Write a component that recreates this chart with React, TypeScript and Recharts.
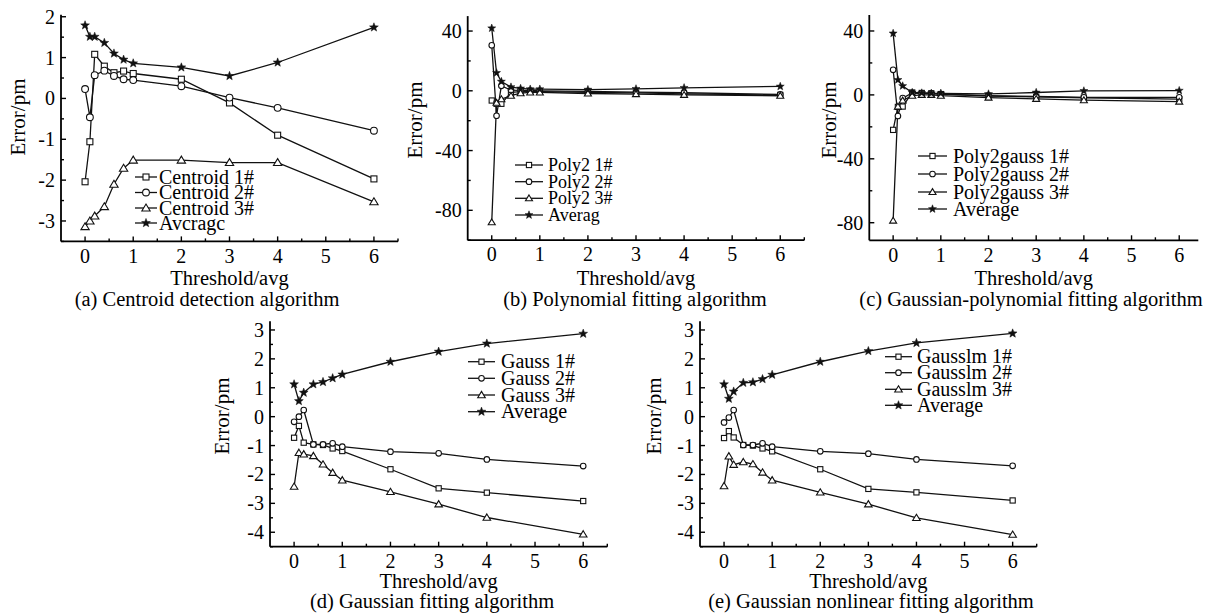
import React from 'react';
import { LineChart, Line, XAxis, YAxis } from 'recharts';

const FONT = '"Liberation Serif", "Times New Roman", Times, serif';

// Threshold / avg values (x axis)
const thresholds = [0, 0.1, 0.2, 0.4, 0.6, 0.8, 1, 2, 3, 4, 6];

// (a) Centroid detection algorithm
const centroid1 = [-2.04, -1.06, 1.08, 0.79, 0.63, 0.67, 0.61, 0.47, -0.11, -0.9, -1.97];
const centroid2 = [0.23, -0.46, 0.57, 0.68, 0.55, 0.47, 0.45, 0.3, 0.02, -0.23, -0.79];
const centroid3 = [-3.14, -3.0, -2.88, -2.65, -2.1, -1.71, -1.51, -1.51, -1.57, -1.57, -2.53];
const centroidAvg = [1.79, 1.51, 1.51, 1.36, 1.1, 0.95, 0.86, 0.76, 0.55, 0.88, 1.74];

// (b) Polynomial fitting algorithm
const poly1 = [-6.5, -8.7, -8.7, -1.0, -0.5, -0.3, -0.5, -1.0, -1.4, -2.0, -2.8];
const poly2 = [30.5, -16.7, 3.3, 0.5, 0.3, 0.2, 0.0, -0.4, -0.9, -1.3, -2.4];
const poly3 = [-88, -8.0, -5.6, -3.3, -1.6, -1.1, -1.1, -1.8, -2.2, -2.7, -3.3];
const polyAvg = [41.9, 12.0, 6.2, 2.5, 1.6, 1.1, 1.1, 0.8, 1.3, 2.0, 2.9];

// (c) Gaussian-polynomial fitting algorithm
const pgauss1 = [-21.9, -7.5, -7.3, 1.5, 1.2, 1.0, 0.5, -0.8, -1.2, -1.8, -2.7];
const pgauss2 = [15.7, -13.2, -2.0, 1.2, 1.0, 0.8, 0.5, -0.5, -1.0, -1.5, -1.5];
const pgauss3 = [-78.7, -7.3, -3.5, -0.5, 0.0, 0.0, -0.5, -1.7, -2.5, -3.3, -4.2];
const pgaussAvg = [38.5, 9.4, 5.6, 1.5, 1.2, 1.0, 1.0, 0.6, 1.5, 2.5, 2.7];

// (d) Gaussian fitting algorithm
const gauss1 = [-0.73, -0.32, -0.9, -0.96, -0.98, -1.1, -1.19, -1.82, -2.48, -2.63, -2.92];
const gauss2 = [-0.18, 0.0, 0.23, -0.96, -0.96, -0.92, -1.04, -1.21, -1.27, -1.48, -1.71];
const gauss3 = [-2.42, -1.25, -1.3, -1.36, -1.65, -1.94, -2.2, -2.6, -3.03, -3.49, -4.07];
const gaussAvg = [1.12, 0.54, 0.83, 1.12, 1.2, 1.33, 1.46, 1.9, 2.25, 2.53, 2.87];

// (e) Gaussian nonlinear fitting algorithm
const gausslm1 = [-0.74, -0.5, -0.72, -0.98, -1.0, -1.1, -1.2, -1.82, -2.5, -2.62, -2.9];
const gausslm2 = [-0.2, -0.03, 0.23, -0.98, -0.98, -0.92, -1.04, -1.2, -1.28, -1.48, -1.7];
const gausslm3 = [-2.4, -1.37, -1.66, -1.57, -1.64, -1.93, -2.2, -2.62, -3.03, -3.5, -4.08];
const gausslmAvg = [1.12, 0.62, 0.87, 1.17, 1.19, 1.3, 1.45, 1.9, 2.27, 2.55, 2.88];

// tick labels
const xMajor = [0, 1, 2, 3, 4, 5, 6];
const xMinor = [0.5, 1.5, 2.5, 3.5, 4.5, 5.5, 6.5];
const yMajorA = [-3, -2, -1, 0, 1, 2];
const yMinorA = [-3.5, -2.5, -1.5, -0.5, 0.5, 1.5];
const yMajorBC = [-80, -40, 0, 40];
const yMinorB = [-100, -60, -20, 20];
const yMinorC = [-60, -20, 20];
const yMajorDE = [-4, -3, -2, -1, 0, 1, 2, 3];
const yMinorDE = [-4.5, -3.5, -2.5, -1.5, -0.5, 0.5, 1.5, 2.5];

const namesA = ['Centroid 1#', 'Centroid 2#', 'Centroid 3#', 'Avcragc'];
const namesB = ['Poly2 1#', 'Poly2 2#', 'Poly2 3#', 'Averag'];
const namesC = ['Poly2gauss 1#', 'Poly2gauss 2#', 'Poly2gauss 3#', 'Average'];
const namesD = ['Gauss 1#', 'Gauss 2#', 'Gauss 3#', 'Average'];
const namesE = ['Gausslm 1#', 'Gausslm 2#', 'Gausslm 3#', 'Average'];

const captions = [
  '(a) Centroid detection algorithm',
  '(b) Polynomial fitting algorithm',
  '(c) Gaussian-polynomial fitting algorithm',
  '(d) Gaussian fitting algorithm',
  '(e) Gaussian nonlinear fitting algorithm',
];

const markerKinds = ['square', 'circle', 'triangle', 'star'];

function Marker({ kind, cx, cy, s }: { kind: string; cx: number; cy: number; s: number }) {
  if (cx == null || cy == null || isNaN(cx) || isNaN(cy)) return null;
  if (kind === 'square') {
    return <rect x={cx - s} y={cy - s} width={2 * s} height={2 * s} fill="#fff" stroke="#111" strokeWidth={1.1} />;
  }
  if (kind === 'circle') {
    return <circle cx={cx} cy={cy} r={s} fill="#fff" stroke="#111" strokeWidth={1.1} />;
  }
  if (kind === 'triangle') {
    const h = s * 1.2;
    return (
      <polygon
        points={`${cx},${cy - h} ${cx + h * 1.05},${cy + h * 0.75} ${cx - h * 1.05},${cy + h * 0.75}`}
        fill="#fff"
        stroke="#111"
        strokeWidth={1.1}
      />
    );
  }
  const R = s * 1.4;
  const r = R * 0.42;
  const pts: string[] = [];
  for (let i = 0; i < 10; i++) {
    const rad = i % 2 === 0 ? R : r;
    const ang = -Math.PI / 2 + (i * Math.PI) / 5;
    pts.push(`${cx + rad * Math.cos(ang)},${cy + rad * Math.sin(ang)}`);
  }
  return <polygon points={pts.join(' ')} fill="#111" stroke="#111" strokeWidth={0.5} />;
}

const makeXTick = (majors: number[]) => (props: any) => {
  const { x, y, payload } = props;
  const v = payload.value;
  const isMajor = majors.includes(v);
  return (
    <g>
      <line x1={x} y1={y} x2={x} y2={y - (isMajor ? 5 : 3)} stroke="#000" strokeWidth={1.4} />
      {isMajor && (
        <text x={x} y={y + 7} dy="0.71em" textAnchor="middle" fontSize={20} fontFamily={FONT} fill="#000">
          {String(v)}
        </text>
      )}
    </g>
  );
};

const makeYTick = (majors: number[]) => (props: any) => {
  const { x, y, payload } = props;
  const v = payload.value;
  const isMajor = majors.includes(v);
  return (
    <g>
      <line x1={x} y1={y} x2={x + (isMajor ? 5 : 3)} y2={y} stroke="#000" strokeWidth={1.4} />
      {isMajor && (
        <text x={x - 6} y={y} dy="0.35em" textAnchor="end" fontSize={20} fontFamily={FONT} fill="#000">
          {String(v)}
        </text>
      )}
    </g>
  );
};

type PanelCfg = {
  box: { x: number; y: number; w: number; h: number };
  plot: { l: number; t: number; r: number; b: number };
  series: number[][];
  yDomain: [number, number];
  xDomain: [number, number];
  yMajor: number[];
  yMinor: number[];
  markerSize: number[];
};

function Panel({ cfg }: { cfg: PanelCfg }) {
  const { box, plot, series } = cfg;
  const data = thresholds.map((t, i) => ({ t, s0: series[0][i], s1: series[1][i], s2: series[2][i], s3: series[3][i] }));
  const yAxisW = plot.l - box.x;
  const margin = {
    top: plot.t - box.y,
    left: 0,
    right: box.x + box.w - plot.r,
    bottom: box.y + box.h - plot.b - 30,
  };
  const xTicks = [...xMajor, ...xMinor.filter((v) => v <= cfg.xDomain[1])].sort((a, b) => a - b);
  const yTicks = [...cfg.yMajor, ...cfg.yMinor].sort((a, b) => a - b);
  return (
    <div style={{ position: 'absolute', left: box.x, top: box.y }}>
      <LineChart width={box.w} height={box.h} data={data} margin={margin}>
        <XAxis
          dataKey="t"
          type="number"
          domain={cfg.xDomain}
          allowDataOverflow
          ticks={xTicks}
          interval={0}
          height={30}
          tickSize={0}
          tickMargin={0}
          tickLine={false}
          axisLine={{ stroke: '#000', strokeWidth: 1.8 }}
          tick={makeXTick(xMajor)}
        />
        <YAxis
          type="number"
          domain={cfg.yDomain}
          allowDataOverflow
          ticks={yTicks}
          interval={0}
          width={yAxisW}
          tickSize={0}
          tickMargin={0}
          tickLine={false}
          axisLine={{ stroke: '#000', strokeWidth: 1.8 }}
          tick={makeYTick(cfg.yMajor)}
        />
        {[0, 1, 2, 3].map((k) => (
          <Line
            key={k}
            type="linear"
            dataKey={`s${k}`}
            stroke="#111"
            strokeWidth={1.3}
            isAnimationActive={false}
            activeDot={false}
            dot={(p: any) => (
              <Marker key={`m${k}-${p.index}`} kind={markerKinds[k]} cx={p.cx} cy={p.cy} s={cfg.markerSize[k]} />
            )}
          />
        ))}
      </LineChart>
    </div>
  );
}

const panels: PanelCfg[] = [
  {
    box: { x: 0, y: 0, w: 410, h: 280 },
    plot: { l: 61, t: 14.7, r: 398, b: 241.4 },
    series: [centroid1, centroid2, centroid3, centroidAvg],
    yDomain: [-3.5, 2.05],
    xDomain: [-0.5, 6.5],
    yMajor: yMajorA,
    yMinor: yMinorA,
    markerSize: [3, 3.4, 3.3, 3.3],
  },
  {
    box: { x: 400, y: 0, w: 420, h: 280 },
    plot: { l: 467.7, t: 16.1, r: 804.3, b: 240.2 },
    series: [poly1, poly2, poly3, polyAvg],
    yDomain: [-100, 50],
    xDomain: [-0.5, 6.5],
    yMajor: yMajorBC,
    yMinor: yMinorB,
    markerSize: [2.6, 2.8, 2.8, 3],
  },
  {
    box: { x: 815, y: 0, w: 409, h: 280 },
    plot: { l: 869.3, t: 15, r: 1198.3, b: 240.3 },
    series: [pgauss1, pgauss2, pgauss3, pgaussAvg],
    yDomain: [-91, 50],
    xDomain: [-0.5, 6.4],
    yMajor: yMajorBC,
    yMinor: yMinorC,
    markerSize: [2.6, 2.8, 2.8, 3],
  },
  {
    box: { x: 200, y: 300, w: 440, h: 280 },
    plot: { l: 270, t: 321.3, r: 607.3, b: 546.7 },
    series: [gauss1, gauss2, gauss3, gaussAvg],
    yDomain: [-4.5, 3.3],
    xDomain: [-0.5, 6.5],
    yMajor: yMajorDE,
    yMinor: yMinorDE,
    markerSize: [2.6, 2.8, 3, 3.3],
  },
  {
    box: { x: 650, y: 300, w: 420, h: 280 },
    plot: { l: 700, t: 321.3, r: 1036.7, b: 546.7 },
    series: [gausslm1, gausslm2, gausslm3, gausslmAvg],
    yDomain: [-4.5, 3.3],
    xDomain: [-0.5, 6.5],
    yMajor: yMajorDE,
    yMinor: yMinorDE,
    markerSize: [2.6, 2.8, 3, 3.3],
  },
];

type LegendCfg = { names: string[]; x1: number; x2: number; tx: number; rows: number[]; fs: number; ms: number[] };

const legends: LegendCfg[] = [
  { names: namesA, x1: 135, x2: 157, tx: 159, rows: [177, 192.5, 208, 223], fs: 20, ms: [3, 3.4, 3.3, 3.3] },
  { names: namesB, x1: 515, x2: 543, tx: 548, rows: [165, 181.7, 198.3, 215], fs: 18, ms: [2.6, 2.8, 2.8, 3] },
  { names: namesC, x1: 918, x2: 947, tx: 953, rows: [156, 174, 192, 209], fs: 20, ms: [2.6, 2.8, 2.8, 3] },
  { names: namesD, x1: 468, x2: 495, tx: 501, rows: [361.7, 378.3, 395, 411.7], fs: 20, ms: [2.6, 2.8, 3, 3.3] },
  { names: namesE, x1: 885, x2: 912, tx: 917, rows: [356.7, 372.7, 389.3, 405.3], fs: 20, ms: [2.6, 2.8, 3, 3.3] },
];

const yTitles = [
  { x: 17.5, y: 117 },
  { x: 415, y: 120 },
  { x: 829, y: 120 },
  { x: 222, y: 416 },
  { x: 654, y: 416 },
];

const captionX = [207, 635, 1031, 432, 871];

export default function App() {
  return (
    <div style={{ position: 'absolute', left: 0, top: 0, width: 1224, height: 616, background: '#fff', overflow: 'hidden' }}>
      {panels.map((p, i) => (
        <Panel key={i} cfg={p} />
      ))}
      <svg
        width={1224}
        height={616}
        style={{ position: 'absolute', left: 0, top: 0, pointerEvents: 'none' }}
        fontFamily={FONT}
      >
        {legends.map((lg, i) => (
          <g key={`lg${i}`}>
            {lg.names.map((n, k) => (
              <g key={k}>
                <line x1={lg.x1} y1={lg.rows[k]} x2={lg.x2} y2={lg.rows[k]} stroke="#111" strokeWidth={1.3} />
                <Marker kind={markerKinds[k]} cx={(lg.x1 + lg.x2) / 2} cy={lg.rows[k]} s={lg.ms[k]} />
                <text x={lg.tx} y={lg.rows[k] + lg.fs * 0.33} fontSize={lg.fs} fill="#000">
                  {n}
                </text>
              </g>
            ))}
          </g>
        ))}
        {panels.map((p, i) => {
          const cx = (p.plot.l + p.plot.r) / 2;
          const top = i < 3;
          return (
            <g key={`t${i}`}>
              <text x={cx} y={top ? 285 : 588} textAnchor="middle" fontSize={20.5} fill="#000">
                Threshold/avg
              </text>
              <text x={captionX[i]} y={top ? 306 : 608} textAnchor="middle" fontSize={20.5} fill="#000">
                {captions[i]}
              </text>
              <text
                transform={`translate(${yTitles[i].x},${yTitles[i].y}) rotate(-90)`}
                textAnchor="middle"
                dominantBaseline="central"
                fontSize={21}
                fill="#000"
              >
                Error/pm
              </text>
            </g>
          );
        })}
      </svg>
    </div>
  );
}
